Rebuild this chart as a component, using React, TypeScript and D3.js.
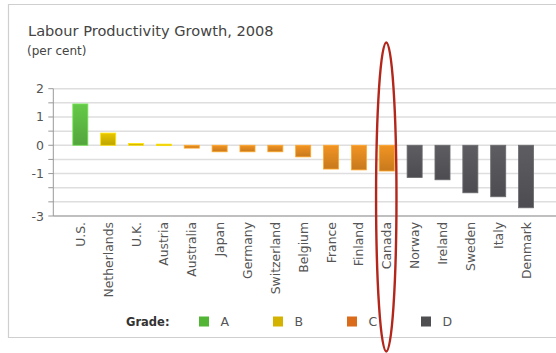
import React from "react";
import * as d3 from "d3";

const countries = ["U.S.", "Netherlands", "U.K.", "Austria", "Australia", "Japan", "Germany", "Switzerland", "Belgium", "France", "Finland", "Canada", "Norway", "Ireland", "Sweden", "Italy", "Denmark"];
const values = [1.46, 0.43, 0.06, 0.04, -0.1, -0.23, -0.23, -0.23, -0.41, -0.84, -0.87, -0.91, -1.14, -1.22, -1.68, -1.82, -2.21];
const grades = ["A", "B", "B", "B", "C", "C", "C", "C", "C", "C", "C", "C", "D", "D", "D", "D", "D"];
const gradeNames = ["A", "B", "C", "D"];
const gradeColors = ["#5cb843", "#d4b600", "#dd8720", "#56565a"];
const legendColors = ["#52b536", "#d4b300", "#d96b1a", "#4f4f52"];
const gridValues = [2, 1.5, 1, 0.5, 0, -0.5, -1, -1.5, -2, -2.5];
const tickValues = [2, 1, 0, -1, -2.5];
const tickLabels = ["2", "1", "0", "-1", "-3"];

const W = 556, H = 353;
const FONT = "'DejaVu Sans', Verdana, sans-serif";

export default function App() {
  const x = d3.scaleBand<string>().domain(countries).range([66.4, 540]).paddingInner(0.46).paddingOuter(0.23);
  const y = d3.scaleLinear().domain([-2.5, 2]).range([216, 88.7]);
  const gradeColor = d3.scaleOrdinal<string, string>().domain(gradeNames).range(gradeColors);
  const legendColor = d3.scaleOrdinal<string, string>().domain(gradeNames).range(legendColors);
  const axisX = 53.3;

  return (
    <svg width={W} height={H} style={{ position: "absolute", left: 0, top: 0, background: "#fff" }} fontFamily={FONT}>
      <defs>
        {gradeNames.map((g) => {
          const c = d3.color(gradeColor(g))!;
          return (
            <linearGradient key={g} id={`grad-${g}`} x1="0" y1="0" x2="0" y2="1">
              <stop offset="0%" stopColor={c.brighter(0.25).toString()} />
              <stop offset="100%" stopColor={c.darker(0.3).toString()} />
            </linearGradient>
          );
        })}
      </defs>
      {/* frame */}
      <path d={`M${W},4.5 H8.5 V337.5 H${W}`} fill="none" stroke="#cfcfcf" strokeWidth={1.2} />
      {/* title */}
      <text x={28} y={36} fontSize={14.6} fill="#444">Labour Productivity Growth, 2008</text>
      <text x={27} y={55} fontSize={12} fill="#444">(per cent)</text>
      {/* gridlines */}
      {gridValues.map((v) => (
        <g key={v}>
          <line x1={axisX} x2={W} y1={y(v)} y2={y(v)} stroke="#dedede" strokeWidth={1.5} />
          <line x1={48.3} x2={axisX} y1={y(v)} y2={y(v)} stroke="#999" strokeWidth={1} />
        </g>
      ))}
      {/* y labels */}
      {tickValues.map((v, i) => (
        <text key={v} x={44} y={y(v)} dy="0.36em" textAnchor="end" fontSize={12.5} fill="#555">{tickLabels[i]}</text>
      ))}
      {/* bars */}
      {countries.map((c, i) => {
        const v = values[i];
        const y0 = y(Math.max(0, v));
        const h = Math.max(1.5, Math.abs(y(v) - y(0)));
        const col = d3.color(gradeColor(grades[i]))!;
        return (
          <rect key={c} x={x(c)!} y={y0} width={x.bandwidth()} height={h}
            fill={`url(#grad-${grades[i]})`} stroke={col.brighter(0.6).toString()} strokeWidth={0.8} />
        );
      })}
      {/* axes */}
      <line x1={axisX} x2={axisX} y1={y(2)} y2={y(-2.5)} stroke="#999" strokeWidth={1} />
      <line x1={axisX} x2={W} y1={y(-2.5)} y2={y(-2.5)} stroke="#999" strokeWidth={1} />
      {/* x labels */}
      {countries.map((c) => (
        <text key={c} transform={`translate(${x(c)! + x.bandwidth() / 2},222) rotate(-90)`} dy="0.36em"
          textAnchor="end" fontSize={12.4} fill="#555">{c}</text>
      ))}
      {/* legend */}
      <text x={126} y={325.5} fontSize={11.5} fontWeight="bold" fill="#333">Grade:</text>
      {gradeNames.map((g, i) => (
        <g key={g} transform={`translate(${199 + i * 74},316.5)`}>
          <rect width={10} height={10} fill={legendColor(g)} />
          <text x={21.5} y={9} fontSize={12.5} fill="#555">{g}</text>
        </g>
      ))}
      {/* highlight ellipse */}
      <ellipse cx={x("Canada")! + x.bandwidth() / 2 - 0.5} cy={197} rx={10.2} ry={154.5} fill="none" stroke="#b3261b" strokeWidth={2.4} />
    </svg>
  );
}
